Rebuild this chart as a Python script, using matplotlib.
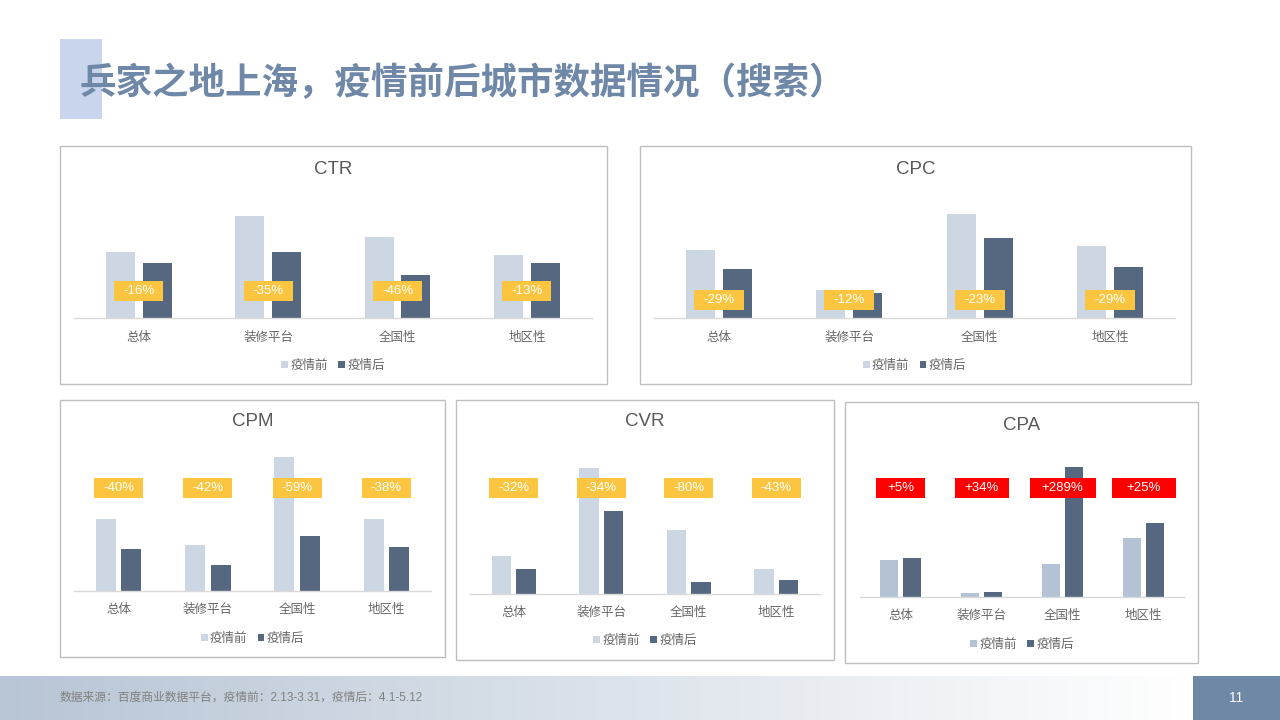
import matplotlib
matplotlib.use('Agg')
import matplotlib.pyplot as plt
from matplotlib.patches import Rectangle, Patch
import numpy as np

plt.rcParams['font.family'] = ['Liberation Sans', 'Noto Sans CJK SC', 'DejaVu Sans']

# ---------------- data ----------------
categories = ['总体', '装修平台', '全国性', '地区性']
series_names = ['疫情前', '疫情后']

ctr_before = [66, 102, 81, 63]
ctr_after = [55, 66, 43, 55]
ctr_change = ['-16%', '-35%', '-46%', '-13%']

cpc_before = [68, 28, 104, 72]
cpc_after = [49, 25, 80, 51]
cpc_change = ['-29%', '-12%', '-23%', '-29%']

cpm_before = [72, 46, 134, 72]
cpm_after = [42, 26, 55, 44]
cpm_change = ['-40%', '-42%', '-59%', '-38%']

cvr_before = [38, 126, 64, 25]
cvr_after = [25, 83, 12, 14]
cvr_change = ['-32%', '-34%', '-80%', '-43%']

cpa_before = [37, 3.8, 33.5, 59]
cpa_after = [38.8, 5.1, 130.5, 74]
cpa_change = ['+5%', '+34%', '+289%', '+25%']

title_text = '兵家之地上海，疫情前后城市数据情况（搜索）'
footer_text = '数据来源：百度商业数据平台，疫情前：2.13-3.31，疫情后：4.1-5.12'
page_number = '11'

# ---------------- styles ----------------
C_BEFORE = '#ccd7e3'
C_BEFORE_CPA = '#b3c3d5'
C_AFTER = '#56687f'
C_YELLOW = '#fcc53f'
C_RED = '#ff0000'
C_TITLE = '#595959'
C_TEXT = '#666666'

W, H = 1280, 720
fig = plt.figure(figsize=(12.8, 7.2), dpi=100)

bg = fig.add_axes([0, 0, 1, 1])
bg.set_axis_off()

# footer gradient
grad_left = np.array([0xb8, 0xc5, 0xd5]) / 255
grad_right = np.array([1.0, 1.0, 1.0])
t = np.linspace(0, 1, 400)[None, :, None]
grad = grad_left + (grad_right - grad_left) * t
bg.imshow(grad, extent=[0, 1193, 720, 676], aspect='auto', interpolation='bilinear')
bg.add_patch(Rectangle((1193, 676), 87, 44, facecolor='#6e88a6', edgecolor='none'))
bg.set_xlim(0, W)
bg.set_ylim(H, 0)

bg.text(1236, 698, page_number, color='white', fontsize=10, ha='center', va='center')
bg.text(60, 698, footer_text, color='#808080', fontsize=8.5, ha='left', va='center')

# title block
bg.add_patch(Rectangle((60, 39), 42, 80, facecolor='#c8d5ec', edgecolor='none'))
bg.text(80, 84, title_text, color='#6f88a8', fontsize=26.3, fontweight='bold',
        ha='left', va='center', family=['Noto Sans CJK SC', 'DejaVu Sans'])

panels = [
    dict(name='CTR', box=(60, 146, 607, 384), axis=(74, 591.6, 318), title_y=169,
         before=ctr_before, after=ctr_after, change=ctr_change, lab_off=27,
         lab_w=[49, 49, 49, 49], lab_c=C_YELLOW, c_before=C_BEFORE, cat_off=20, leg_off=48),
    dict(name='CPC', box=(640, 146, 1191, 384), axis=(654, 1175, 318), title_y=169,
         before=cpc_before, after=cpc_after, change=cpc_change, lab_off=18,
         lab_w=[50, 50, 50, 50], lab_c=C_YELLOW, c_before=C_BEFORE, cat_off=20, leg_off=48),
    dict(name='CPM', box=(60, 400, 445, 657), axis=(74, 431, 591), title_y=422,
         before=cpm_before, after=cpm_after, change=cpm_change, lab_off=103,
         lab_w=[49, 49, 49, 49], lab_c=C_YELLOW, c_before=C_BEFORE, cat_off=19, leg_off=48),
    dict(name='CVR', box=(456, 400, 834, 660), axis=(470, 820, 594), title_y=422,
         before=cvr_before, after=cvr_after, change=cvr_change, lab_off=106,
         lab_w=[49, 49, 49, 49], lab_c=C_YELLOW, c_before=C_BEFORE, cat_off=19, leg_off=47),
    dict(name='CPA', box=(845, 402, 1198, 663), axis=(860, 1184, 597), title_y=425,
         before=cpa_before, after=cpa_after, change=cpa_change, lab_off=109,
         lab_w=[49, 54, 66, 64], lab_c=C_RED, c_before=C_BEFORE_CPA, cat_off=19, leg_off=48),
]

bar_w = 0.224
bar_off = 0.142

for p in panels:
    x0, y0, x1, y1 = p['box']
    bg.add_patch(Rectangle((x0, y0), x1 - x0, y1 - y0, facecolor='white',
                           edgecolor='#bfbfbf', linewidth=1, zorder=0))
    bg.text((x0 + x1) / 2, p['title_y'], p['name'], color=C_TITLE, fontsize=13.5,
            ha='center', va='center')

    al, ar, base = p['axis']
    top = y0 + 8
    hpx = base - top
    ax = fig.add_axes([al / W, 1 - base / H, (ar - al) / W, hpx / H])
    ax.set_xlim(-0.5, 3.5)
    ax.set_ylim(0, hpx)
    ax.set_axis_off()
    ax.patch.set_alpha(0)
    px_per_cat = (ar - al) / 4.0

    x = np.arange(len(categories))
    ax.bar(x - bar_off, p['before'], width=bar_w, color=p['c_before'], zorder=2)
    ax.bar(x + bar_off, p['after'], width=bar_w, color=C_AFTER, zorder=2)
    ax.plot([-0.5, 3.5], [0, 0], color='#d9d9d9', lw=1, zorder=3, clip_on=False)

    for i, (cat, lab) in enumerate(zip(categories, p['change'])):
        wd = p['lab_w'][i] / px_per_cat
        ax.add_patch(Rectangle((i - wd / 2, p['lab_off'] - 10), wd, 20,
                               facecolor=p['lab_c'], edgecolor='none', zorder=4))
        ax.text(i, p['lab_off'], lab, color='white', fontsize=9.5, ha='center',
                va='center', zorder=5)
        ax.text(i, -p['cat_off'], cat, color=C_TEXT, fontsize=9, ha='center',
                va='center', clip_on=False)

    handles = [Patch(facecolor=p['c_before'], edgecolor='none'),
               Patch(facecolor=C_AFTER, edgecolor='none')]
    ax.legend(handles, series_names, loc='center', ncol=2, frameon=False,
              bbox_to_anchor=(0.5, -p['leg_off'] / hpx), fontsize=9,
              handlelength=0.55, handleheight=0.55, handletextpad=0.2,
              columnspacing=0.8, labelcolor=C_TEXT, borderaxespad=0, borderpad=0)

fig.savefig('out.png', dpi=100)
